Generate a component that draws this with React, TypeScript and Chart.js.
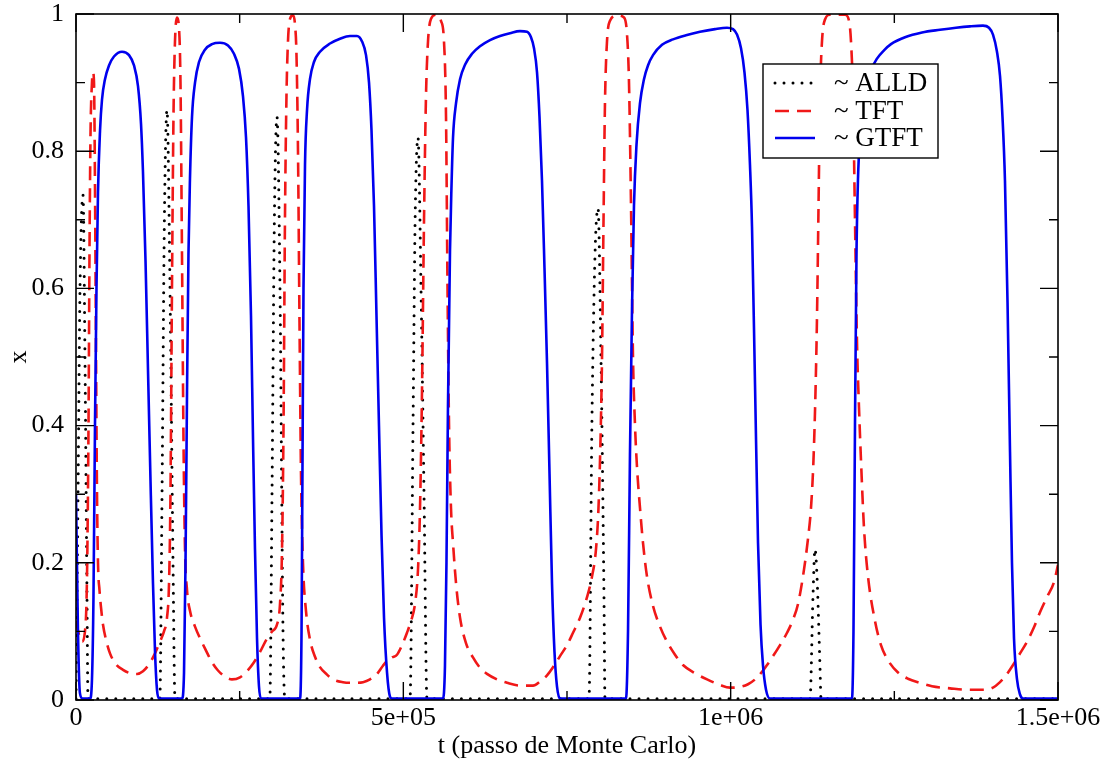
import { useEffect, useRef } from "react";
import { Chart, registerables } from "chart.js";

Chart.register(...registerables);

// ---- data (t in Monte Carlo steps, x = fraction) ----
const seriesNames = ["~ ALLD", "~ TFT", "~ GTFT"];

const alld: [number, number][] = [
  [0, 0.002], [3100, 0.3], [6100, 0.6], [10700, 0.736], [13700, 0.5], [16800, 0.15], [18300, 0.002],
  [128000, 0.002], [131400, 0.3], [135000, 0.7], [139000, 0.86], [143600, 0.6], [148200, 0.2], [151200, 0.002],
  [296000, 0.002], [299400, 0.3], [303000, 0.7], [307000, 0.85], [311600, 0.6], [316200, 0.1], [319000, 0.002],
  [510200, 0.002], [514800, 0.4], [518000, 0.7], [522400, 0.82], [527000, 0.6], [531600, 0.3], [536100, 0.002],
  [783600, 0.002], [788000, 0.4], [792800, 0.65], [797400, 0.717], [801900, 0.5], [806500, 0.15], [808000, 0.002],
  [1121200, 0.002], [1125700, 0.15], [1128800, 0.22], [1131900, 0.18], [1136400, 0.05], [1138000, 0.002],
  [1500000, 0.002],
];

const tft: [number, number][] = [
  [0, 0.115], [4600, 0.095], [9200, 0.085], [13700, 0.1], [16800, 0.18], [19100, 0.4], [20600, 0.65],
  [22100, 0.82], [24400, 0.9], [26000, 0.915], [27500, 0.9], [29000, 0.75], [30600, 0.5], [32100, 0.3],
  [33600, 0.2], [35900, 0.16], [38200, 0.135], [41200, 0.11], [45800, 0.088], [51900, 0.068],
  [61100, 0.052], [71800, 0.044], [82500, 0.039], [93200, 0.038], [102300, 0.042], [111500, 0.052],
  [120700, 0.068], [128300, 0.085], [134400, 0.1], [139000, 0.12], [142100, 0.17], [144300, 0.3],
  [146600, 0.6], [148900, 0.85], [151200, 0.96], [154300, 0.995], [157300, 0.98], [159600, 0.9],
  [161900, 0.65], [164200, 0.38], [166500, 0.22], [169600, 0.16], [174100, 0.13], [181800, 0.107],
  [189400, 0.09], [198600, 0.072], [207700, 0.055], [216900, 0.043], [227600, 0.034], [238300, 0.03],
  [250500, 0.033], [261200, 0.042], [271900, 0.055], [281100, 0.07], [290200, 0.087], [299400, 0.1],
  [307000, 0.11], [311600, 0.14], [314700, 0.22], [317000, 0.4], [319200, 0.7], [321500, 0.88],
  [323800, 0.96], [326900, 0.993], [331500, 0.998], [334500, 0.985], [336800, 0.94], [339100, 0.8],
  [341400, 0.55], [343700, 0.33], [346700, 0.2], [351300, 0.13], [357400, 0.088], [365100, 0.063],
  [372700, 0.048], [383400, 0.037], [392600, 0.03], [407800, 0.026], [423100, 0.025], [438400, 0.026],
  [449100, 0.03], [459800, 0.038], [468900, 0.05], [475100, 0.057], [482700, 0.062], [490300, 0.066],
  [498000, 0.08], [505600, 0.098], [511700, 0.115], [517800, 0.14], [522400, 0.19], [525500, 0.28],
  [528500, 0.45], [531600, 0.7], [534600, 0.88], [537700, 0.96], [542300, 0.993], [549900, 0.999],
  [557500, 0.99], [562100, 0.96], [565200, 0.85], [567500, 0.6], [569800, 0.4], [572800, 0.28],
  [575900, 0.229], [580500, 0.17], [586600, 0.12], [595700, 0.083], [606400, 0.062], [617100, 0.047],
  [627800, 0.038], [643100, 0.03], [658400, 0.025], [678200, 0.021], [698100, 0.021], [708800, 0.027],
  [719500, 0.036], [730100, 0.05], [739300, 0.064], [750000, 0.08], [759200, 0.098], [769900, 0.12],
  [780600, 0.15], [788200, 0.18], [794300, 0.22], [798100, 0.28], [801200, 0.38], [803500, 0.5],
  [805800, 0.7], [808000, 0.87], [811100, 0.96], [815700, 0.99], [826400, 0.998], [837100, 0.995],
  [841700, 0.97], [844700, 0.9], [847800, 0.72], [850800, 0.5], [853900, 0.4], [856900, 0.34],
  [861500, 0.28], [866100, 0.229], [872200, 0.18], [881400, 0.137], [892100, 0.107], [902800, 0.085],
  [915000, 0.066], [927200, 0.051], [945500, 0.039], [963900, 0.03], [983700, 0.022], [999000, 0.018],
  [1014300, 0.019], [1026500, 0.023], [1037200, 0.03], [1047900, 0.041], [1057000, 0.053],
  [1064700, 0.064], [1075400, 0.08], [1086100, 0.098], [1095200, 0.117], [1102900, 0.14],
  [1112000, 0.19], [1118100, 0.235], [1122700, 0.28], [1126500, 0.35], [1129600, 0.45],
  [1131900, 0.56], [1134200, 0.72], [1136500, 0.88], [1139500, 0.96], [1144100, 0.992],
  [1151700, 0.999], [1174600, 0.999], [1180800, 0.99], [1183800, 0.96], [1186900, 0.88],
  [1189900, 0.7], [1193000, 0.52], [1196000, 0.427], [1199900, 0.33], [1203700, 0.25],
  [1209800, 0.18], [1220500, 0.115], [1229600, 0.08], [1240300, 0.058], [1255600, 0.04],
  [1270900, 0.031], [1289200, 0.025], [1307500, 0.02], [1335000, 0.017], [1359500, 0.015],
  [1388500, 0.015], [1400700, 0.018], [1411400, 0.026], [1420600, 0.036], [1431300, 0.051],
  [1442000, 0.068], [1452700, 0.085], [1463300, 0.106], [1472500, 0.128], [1483200, 0.15],
  [1493900, 0.172], [1500000, 0.197],
];

const gtft: [number, number][] = [
  [0, 0.3], [3000, 0.1], [6000, 0.01], [10000, 0.002],
  [21400, 0.002], [24400, 0.03], [26700, 0.15], [29000, 0.4], [31300, 0.6], [33600, 0.74],
  [36700, 0.83], [39700, 0.875], [44300, 0.905], [50400, 0.925], [58000, 0.938], [70300, 0.945],
  [81000, 0.94], [88600, 0.925], [94700, 0.895], [99300, 0.84], [102300, 0.77], [106200, 0.64],
  [110000, 0.48], [113800, 0.32], [117600, 0.17], [120700, 0.07], [123700, 0.015], [126800, 0.002],
  [161900, 0.002], [165000, 0.04], [167300, 0.2], [169600, 0.45], [171800, 0.65], [174100, 0.76],
  [177200, 0.85], [181800, 0.9], [187900, 0.93], [197000, 0.948], [207700, 0.956], [220000, 0.958],
  [232200, 0.954], [241300, 0.942], [249000, 0.92], [255100, 0.88], [259700, 0.82], [263500, 0.72],
  [267300, 0.56], [270400, 0.38], [273400, 0.22], [276500, 0.09], [279500, 0.02], [282600, 0.002],
  [342200, 0.002], [344500, 0.1], [346000, 0.35], [347500, 0.6], [349800, 0.78], [352900, 0.86],
  [357400, 0.905], [363500, 0.93], [372700, 0.945], [388000, 0.957], [403300, 0.964], [418500, 0.968],
  [429200, 0.968], [436900, 0.96], [443000, 0.94], [447600, 0.9], [451400, 0.83], [455200, 0.72],
  [459000, 0.56], [462800, 0.4], [466700, 0.24], [470500, 0.12], [475100, 0.04], [479600, 0.005],
  [482700, 0.002],
  [560600, 0.002], [563600, 0.05], [565900, 0.2], [568200, 0.43], [571300, 0.656], [573600, 0.75],
  [575900, 0.82], [580500, 0.87], [586600, 0.905], [594200, 0.926], [604900, 0.942], [617100, 0.953],
  [632400, 0.962], [647700, 0.968], [662900, 0.972], [678200, 0.975], [688900, 0.974], [695000, 0.966],
  [699600, 0.95], [704200, 0.915], [708000, 0.85], [711800, 0.757], [715600, 0.63], [719500, 0.49],
  [723300, 0.33], [727100, 0.17], [730900, 0.07], [734700, 0.02], [739300, 0.002],
  [840100, 0.002], [843200, 0.1], [846200, 0.36], [849300, 0.57], [852300, 0.72], [856200, 0.81],
  [861500, 0.87], [867600, 0.905], [873700, 0.925], [881400, 0.94], [895100, 0.955], [911900, 0.963],
  [931800, 0.969], [953200, 0.974], [976100, 0.978], [994400, 0.98], [1003600, 0.978], [1009700, 0.97],
  [1015800, 0.95], [1021100, 0.915], [1025700, 0.86], [1029500, 0.78], [1032600, 0.69], [1037200, 0.46],
  [1041800, 0.229], [1045600, 0.11], [1049400, 0.05], [1054000, 0.015], [1060100, 0.002],
  [1185300, 0.002], [1187600, 0.1], [1189900, 0.4], [1192200, 0.65], [1194500, 0.76], [1197600, 0.82],
  [1202100, 0.865], [1208300, 0.897], [1214400, 0.918], [1223500, 0.935], [1234200, 0.947],
  [1244900, 0.956], [1266300, 0.966], [1292300, 0.973], [1319800, 0.977], [1344200, 0.98],
  [1365600, 0.982], [1385400, 0.983], [1394600, 0.98], [1400700, 0.97], [1406800, 0.945],
  [1411400, 0.91], [1415200, 0.85], [1419000, 0.757], [1422900, 0.58], [1426700, 0.362],
  [1429700, 0.2], [1432800, 0.09], [1437400, 0.03], [1442000, 0.008], [1446500, 0.002],
  [1500000, 0.002],
];

const xTickValues = [0, 500000, 1000000, 1500000];
const xTickLabels = ["0", "5e+05", "1e+06", "1.5e+06"];
const xMinorValues = [250000, 750000, 1250000];
const yTickValues = [0, 0.2, 0.4, 0.6, 0.8, 1];
const yTickLabels = ["0", "0.2", "0.4", "0.6", "0.8", "1"];
const yMinorValues = [0.1, 0.3, 0.5, 0.7, 0.9];

const FONT = "'Liberation Serif', 'Times New Roman', serif";
const COLORS = ["#000000", "#f01818", "#0000ee"];

const framePlugin = {
  id: "frameTicks",
  afterDatasetsDraw(chart: any) {
    const { ctx, chartArea: ca, scales } = chart;
    const xs = scales.x;
    const ys = scales.y;
    ctx.save();
    ctx.strokeStyle = "#000";
    ctx.lineWidth = 1.6;
    ctx.strokeRect(ca.left, ca.top, ca.right - ca.left, ca.bottom - ca.top);
    ctx.lineWidth = 1.4;
    const major = 18;
    const minor = 9;
    const vt = (v: number, len: number) => {
      const px = xs.getPixelForValue(v);
      ctx.beginPath();
      ctx.moveTo(px, ca.bottom);
      ctx.lineTo(px, ca.bottom - len);
      ctx.moveTo(px, ca.top);
      ctx.lineTo(px, ca.top + len);
      ctx.stroke();
    };
    const ht = (v: number, len: number) => {
      const py = ys.getPixelForValue(v);
      ctx.beginPath();
      ctx.moveTo(ca.left, py);
      ctx.lineTo(ca.left + len, py);
      ctx.moveTo(ca.right, py);
      ctx.lineTo(ca.right - len, py);
      ctx.stroke();
    };
    xTickValues.forEach((v) => vt(v, major));
    xMinorValues.forEach((v) => vt(v, minor));
    yTickValues.forEach((v) => ht(v, major));
    yMinorValues.forEach((v) => ht(v, minor));
    ctx.restore();
  },
  afterDraw(chart: any) {
    const { ctx, chartArea: ca } = chart;
    const bx = ca.right - 295;
    const by = ca.top + 50;
    const bw = 175;
    const bh = 94;
    ctx.save();
    ctx.fillStyle = "#fff";
    ctx.fillRect(bx, by, bw, bh);
    ctx.strokeStyle = "#000";
    ctx.lineWidth = 1.4;
    ctx.strokeRect(bx, by, bw, bh);
    const rows = [19, 47, 74];
    const styles = [
      { dash: [0, 9], width: 3, cap: "round" },
      { dash: [14, 8], width: 2.6, cap: "butt" },
      { dash: [], width: 2.6, cap: "butt" },
    ];
    seriesNames.forEach((name, i) => {
      const y = by + rows[i];
      ctx.beginPath();
      ctx.setLineDash(styles[i].dash);
      ctx.lineCap = styles[i].cap;
      ctx.lineWidth = styles[i].width;
      ctx.strokeStyle = COLORS[i];
      ctx.moveTo(bx + 12, y);
      ctx.lineTo(bx + 52, y);
      ctx.stroke();
      ctx.setLineDash([]);
      ctx.fillStyle = "#000";
      ctx.font = `27px ${FONT}`;
      ctx.textBaseline = "middle";
      ctx.textAlign = "left";
      ctx.fillText(name, bx + 71, y + 1);
    });
    ctx.restore();
  },
};

export default function App() {
  const ref = useRef<HTMLCanvasElement | null>(null);

  useEffect(() => {
    document.body.style.margin = "0";
    const canvas = ref.current;
    if (!canvas) return;
    const mk = (arr: [number, number][]) => arr.map(([x, y]) => ({ x, y }));
    const chart = new Chart(canvas, {
      type: "line",
      data: {
        datasets: [
          {
            label: seriesNames[2],
            data: mk(gtft),
            borderColor: COLORS[2],
            borderWidth: 2.6,
            pointRadius: 0,
            cubicInterpolationMode: "monotone",
            order: 0,
          },
          {
            label: seriesNames[1],
            data: mk(tft),
            borderColor: COLORS[1],
            borderWidth: 2.6,
            borderDash: [14, 8],
            pointRadius: 0,
            cubicInterpolationMode: "monotone",
            order: 1,
          },
          {
            label: seriesNames[0],
            data: mk(alld),
            borderColor: COLORS[0],
            borderWidth: 3,
            borderDash: [0, 9],
            borderCapStyle: "round",
            pointRadius: 0,
            cubicInterpolationMode: "monotone",
            order: 2,
          },
        ],
      } as any,
      options: {
        responsive: false,
        animation: false,
        devicePixelRatio: 1,
        layout: { padding: { top: 14, right: 53, left: 0, bottom: 0 } },
        plugins: { legend: { display: false }, tooltip: { enabled: false } },
        scales: {
          x: {
            type: "linear",
            min: 0,
            max: 1500000,
            afterBuildTicks: (s: any) => {
              s.ticks = xTickValues.map((v) => ({ value: v }));
            },
            afterFit: (s: any) => {
              s.height = 66;
              s.paddingLeft = 0;
              s.paddingRight = 0;
            },
            ticks: {
              autoSkip: false,
              maxRotation: 0,
              padding: 3,
              color: "#000",
              font: { family: FONT, size: 26 },
              callback: (v: any) => {
                const i = xTickValues.indexOf(Number(v));
                return i >= 0 ? xTickLabels[i] : "";
              },
            },
            grid: { display: false, drawTicks: false },
            border: { display: false },
            title: {
              display: true,
              text: "t (passo de Monte Carlo)",
              color: "#000",
              font: { family: FONT, size: 26 },
              padding: { top: 0, bottom: 4 },
            },
          },
          y: {
            type: "linear",
            min: 0,
            max: 1,
            afterBuildTicks: (s: any) => {
              s.ticks = yTickValues.map((v) => ({ value: v }));
            },
            afterFit: (s: any) => {
              s.width = 76;
              s.paddingTop = 0;
              s.paddingBottom = 0;
            },
            ticks: {
              autoSkip: false,
              padding: 12,
              color: "#000",
              font: { family: FONT, size: 26 },
              callback: (v: any) => {
                const i = yTickValues.findIndex((t) => Math.abs(t - Number(v)) < 1e-9);
                return i >= 0 ? yTickLabels[i] : "";
              },
            },
            grid: { display: false, drawTicks: false },
            border: { display: false },
            title: {
              display: true,
              text: "x",
              color: "#000",
              font: { family: FONT, size: 26 },
              padding: { top: 4, bottom: 0 },
            },
          },
        },
      } as any,
      plugins: [framePlugin],
    });
    return () => chart.destroy();
  }, []);

  return (
    <div style={{ width: 1111, height: 766, background: "#fff" }}>
      <canvas ref={ref} width={1111} height={766} />
    </div>
  );
}
